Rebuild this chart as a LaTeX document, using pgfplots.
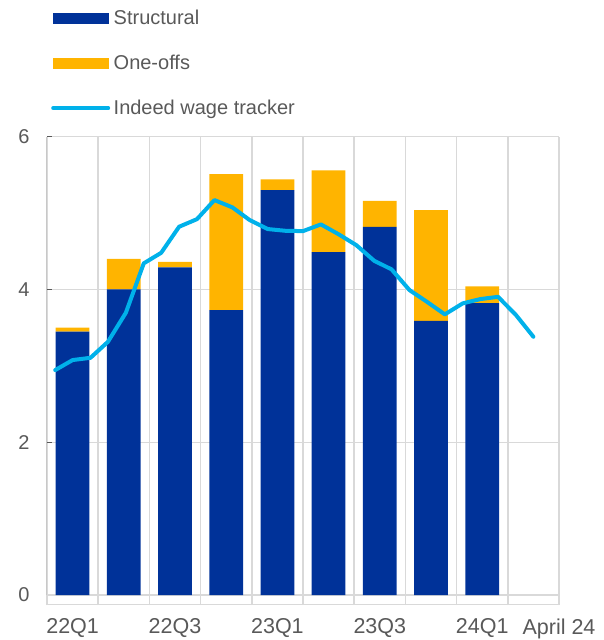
\documentclass[border=0pt]{standalone}
\usepackage{pgfplots}
\pgfplotsset{compat=1.18}
\usepackage{fontspec}
\setmainfont{Liberation Sans}
\definecolor{sblue}{HTML}{003299}
\definecolor{sorange}{HTML}{FFB400}
\definecolor{lblue}{HTML}{00B1EA}
\definecolor{gridc}{HTML}{D9D9D9}
\definecolor{txt}{HTML}{595959}

\pgfplotsset{base/.style={
  scale only axis, width=512bp, height=468.3bp,
  xmin=-0.5, xmax=9.5, ymin=-0.13, ymax=6,
  axis line style={draw=none},
  tick style={draw=none},
}}

\pgfplotstableread{
x   struct  oneoff
0   3.45    0.05
1   4.00    0.40
2   4.29    0.07
3   3.73    1.78
4   5.30    0.14
5   4.49    1.07
6   4.82    0.34
7   3.59    1.45
8   3.82    0.22
}\bars

\begin{document}
\begin{tikzpicture}
\begin{axis}[base, ybar stacked, bar width=0.66,
  ytick={0,2,4,6},
  ymajorgrids, major grid style={gridc, line width=1.5bp},
  minor xtick={-0.5,0.5,...,9.5}, xminorgrids,
  minor grid style={gridc, line width=1.5bp},
  xtick={0,2,4,6,8,9.5}, xticklabels={22Q1,22Q3,23Q1,23Q3,24Q1,April 24},
  ticklabel style={font=\fontsize{20bp}{24bp}\selectfont, text=txt},
  /pgf/number format/assume math mode=true,
  yticklabel style={xshift=-14bp},
  xticklabel style={yshift=-10bp, font=\fontsize{21.5bp}{26bp}\selectfont},
  ]
\addplot[fill=sblue, draw=none] table[x=x, y=struct] {\bars};
\addplot[fill=sorange, draw=none] table[x=x, y=oneoff] {\bars};
\draw[gridc, line width=1.5bp] (axis cs:-0.5,-0.13) -- (axis cs:9.5,-0.13);
\draw[txt, line width=1bp] (axis cs:-0.5,0) -- (axis cs:-0.5,6);
\draw[txt, line width=1bp] (axis cs:-0.5,2) -- (axis cs:-0.4,2);
\draw[txt, line width=1bp] (axis cs:-0.5,4) -- (axis cs:-0.4,4);
\draw[txt, line width=1bp] (axis cs:-0.5,6) -- (axis cs:-0.4,6);
\coordinate (bl) at (rel axis cs:0,0);
\coordinate (tr) at (rel axis cs:1,1);
\end{axis}
\begin{axis}[base, hide axis,
  legend cell align=left,
  legend style={draw=none, fill=none, at={(0,1)}, anchor=north west,
    xshift=4bp, yshift=126.7bp, row sep=29bp, inner sep=0pt,
    font=\fontsize{20bp}{24bp}\selectfont, text=txt,
    nodes={inner xsep=3.5bp, inner ysep=0pt}},
  ]
\addlegendimage{legend image code/.code={\fill[sblue] (0bp,-5bp) rectangle (55bp,5bp);}}
\addlegendentry{Structural}
\addlegendimage{legend image code/.code={\fill[sorange] (0bp,-5bp) rectangle (55bp,5bp);}}
\addlegendentry{One-offs}
\addplot[lblue, line width=4bp, line join=round, line cap=round,
  legend image code/.code={\draw[lblue, line width=4bp] (0bp,0bp) -- (55bp,0bp);}]
coordinates {
(-0.34,2.945) (0.00,3.076) (0.35,3.106) (0.69,3.315) (1.04,3.695)
(1.39,4.342) (1.73,4.480) (2.08,4.821) (2.43,4.921) (2.77,5.170)
(3.12,5.075) (3.46,4.908) (3.81,4.791) (4.16,4.768) (4.50,4.764)
(4.85,4.852) (5.19,4.725) (5.54,4.581) (5.89,4.376) (6.23,4.263)
(6.58,3.992) (6.92,3.839) (7.27,3.674) (7.62,3.818) (7.96,3.874)
(8.31,3.904) (8.66,3.665) (9.00,3.381)
};
\addlegendentry{Indeed wage tracker}
\end{axis}
\pgfresetboundingbox
\useasboundingbox ([xshift=-47bp,yshift=-35bp]bl) rectangle ([xshift=45bp,yshift=136.7bp]tr);
\end{tikzpicture}
\end{document}
